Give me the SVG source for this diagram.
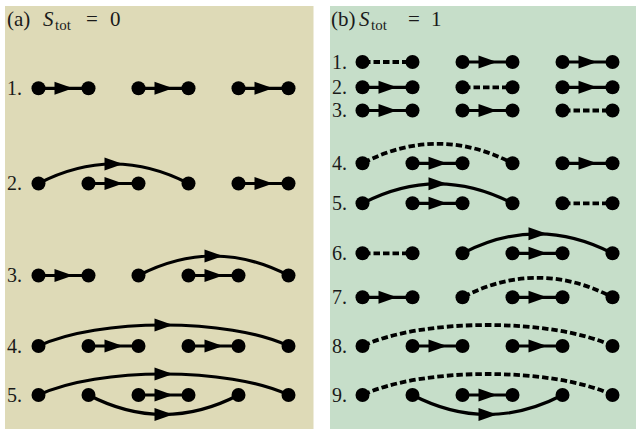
<svg xmlns="http://www.w3.org/2000/svg" width="636" height="429" viewBox="0 0 636 429">
<style>
.bga{fill:#DEDAB7}
.bgb{fill:#C6DEC9}
.e{fill:none;stroke:#000;stroke-width:3.2;marker-mid:url(#arr)}
.d{fill:none;stroke:#000;stroke-width:3.8;stroke-dasharray:6.5 3;stroke-dashoffset:-1.5}
circle{fill:#000}
text{font-family:"Liberation Serif","Times New Roman",serif;font-size:20px;fill:#1a1a1a}
.t{font-size:21px}
.sub{font-size:15px}
.it{font-style:italic}
</style>
<defs>
<marker id="arr" markerUnits="userSpaceOnUse" markerWidth="20" markerHeight="14" viewBox="-10 -7 20 14" refX="0" refY="0" orient="auto" overflow="visible">
<path d="M-9,-6.5 L9.5,0 L-9,6.5 z" fill="#000"/>
</marker>
</defs>
<rect class="bga" x="5" y="6" width="308.5" height="423"/>
<rect class="bgb" x="330" y="6" width="306" height="423"/>
<g id="titles">
<text class="t" x="7" y="26">(a)</text><text class="t it" x="43" y="26">S</text><text class="sub" x="55" y="30">tot</text><text class="t" x="86" y="26">=</text><text class="t" x="110" y="26">0</text>
<text class="t" x="331" y="26">(b)</text><text class="t it" x="359" y="26">S</text><text class="sub" x="371" y="30">tot</text><text class="t" x="408" y="26">=</text><text class="t" x="431" y="26">1</text>
</g>
<g id="labels">
<text x="7" y="95">1.</text><text x="7" y="190.2">2.</text><text x="7" y="282.2">3.</text><text x="7" y="352.7">4.</text><text x="7" y="401.7">5.</text>
<text x="332" y="68.7">1.</text><text x="332" y="94">2.</text><text x="332" y="117.2">3.</text><text x="332" y="170">4.</text><text x="332" y="210">5.</text><text x="332" y="260">6.</text><text x="332" y="304">7.</text><text x="332" y="352.7">8.</text><text x="332" y="401.7">9.</text>
</g>
<g id="connectors">
<path class="e" d="M38.5 88.3H63.5H88.5"/>
<path class="e" d="M138.5 88.3H163.5H188.5"/>
<path class="e" d="M238.5 88.3H263.5H288.5"/>
<path class="e" d="M38.5,183.5 C63.5,170.5 88.5,164 113.5,164 C138.5,164 163.5,170.5 188.5,183.5"/>
<path class="e" d="M88.5 183.5H113.5H138.5"/>
<path class="e" d="M238.5 183.5H263.5H288.5"/>
<path class="e" d="M38.5 275.5H63.5H88.5"/>
<path class="e" d="M188.5 275.5H213.5H238.5"/>
<path class="e" d="M138.5,275.5 C163.5,262.5 188.5,256 213.5,256 C238.5,256 263.5,262.5 288.5,275.5"/>
<path class="e" d="M38.5,346 C68.5,332 116,325 163.5,325 C211,325 258.5,332 288.5,346"/>
<path class="e" d="M88.5 346H113.5H138.5"/>
<path class="e" d="M188.5 346H213.5H238.5"/>
<path class="e" d="M38.5,395 C68.5,381 116,374 163.5,374 C211,374 258.5,381 288.5,395"/>
<path class="e" d="M88.5,395 C113.5,408 138.5,414.5 163.5,414.5 C188.5,414.5 213.5,408 238.5,395"/>
<path class="e" d="M138.5 395H163.5H188.5"/>
<path class="d" d="M362.5 62H412.5"/>
<path class="e" d="M462.5 62H487.5H512.5"/>
<path class="e" d="M562.5 62H587.5H612.5"/>
<path class="e" d="M362.5 87.3H387.5H412.5"/>
<path class="d" d="M462.5 87.3H512.5"/>
<path class="e" d="M562.5 87.3H587.5H612.5"/>
<path class="e" d="M362.5 110.5H387.5H412.5"/>
<path class="e" d="M462.5 110.5H487.5H512.5"/>
<path class="d" d="M562.5 110.5H612.5"/>
<path class="d" d="M362.5,163.3 C412.5,137.3 462.5,137.3 512.5,163.3"/>
<path class="e" d="M412.5 163.3H437.5H462.5"/>
<path class="e" d="M562.5 163.3H587.5H612.5"/>
<path class="e" d="M362.5,203.3 C387.5,190.3 412.5,183.8 437.5,183.8 C462.5,183.8 487.5,190.3 512.5,203.3"/>
<path class="e" d="M412.5 203.3H437.5H462.5"/>
<path class="d" d="M562.5 203.3H612.5"/>
<path class="d" d="M362.5 253.3H412.5"/>
<path class="e" d="M462.5,253.3 C487.5,240.3 512.5,233.8 537.5,233.8 C562.5,233.8 587.5,240.3 612.5,253.3"/>
<path class="e" d="M512.5 253.3H537.5H562.5"/>
<path class="e" d="M362.5 297.3H387.5H412.5"/>
<path class="d" d="M462.5,297.3 C512.5,271.3 562.5,271.3 612.5,297.3"/>
<path class="e" d="M512.5 297.3H537.5H562.5"/>
<path class="d" d="M362.5,346 C422.5,318 552.5,318 612.5,346"/>
<path class="e" d="M412.5 346H437.5H462.5"/>
<path class="e" d="M512.5 346H537.5H562.5"/>
<path class="d" d="M362.5,395 C422.5,367 552.5,367 612.5,395"/>
<path class="e" d="M412.5,395 C437.5,408 462.5,414.5 487.5,414.5 C512.5,414.5 537.5,408 562.5,395"/>
<path class="e" d="M462.5 395H487.5H512.5"/>
</g>
<g id="a1n0"><circle cx="38.5" cy="88.3" r="7"/></g><g id="a1n1"><circle cx="88.5" cy="88.3" r="7"/></g><g id="a1n2"><circle cx="138.5" cy="88.3" r="7"/></g><g id="a1n3"><circle cx="188.5" cy="88.3" r="7"/></g><g id="a1n4"><circle cx="238.5" cy="88.3" r="7"/></g><g id="a1n5"><circle cx="288.5" cy="88.3" r="7"/></g>
<g id="a2n0"><circle cx="38.5" cy="183.5" r="7"/></g><g id="a2n1"><circle cx="88.5" cy="183.5" r="7"/></g><g id="a2n2"><circle cx="138.5" cy="183.5" r="7"/></g><g id="a2n3"><circle cx="188.5" cy="183.5" r="7"/></g><g id="a2n4"><circle cx="238.5" cy="183.5" r="7"/></g><g id="a2n5"><circle cx="288.5" cy="183.5" r="7"/></g>
<g id="a3n0"><circle cx="38.5" cy="275.5" r="7"/></g><g id="a3n1"><circle cx="88.5" cy="275.5" r="7"/></g><g id="a3n2"><circle cx="138.5" cy="275.5" r="7"/></g><g id="a3n3"><circle cx="188.5" cy="275.5" r="7"/></g><g id="a3n4"><circle cx="238.5" cy="275.5" r="7"/></g><g id="a3n5"><circle cx="288.5" cy="275.5" r="7"/></g>
<g id="a4n0"><circle cx="38.5" cy="346" r="7"/></g><g id="a4n1"><circle cx="88.5" cy="346" r="7"/></g><g id="a4n2"><circle cx="138.5" cy="346" r="7"/></g><g id="a4n3"><circle cx="188.5" cy="346" r="7"/></g><g id="a4n4"><circle cx="238.5" cy="346" r="7"/></g><g id="a4n5"><circle cx="288.5" cy="346" r="7"/></g>
<g id="a5n0"><circle cx="38.5" cy="395" r="7"/></g><g id="a5n1"><circle cx="88.5" cy="395" r="7"/></g><g id="a5n2"><circle cx="138.5" cy="395" r="7"/></g><g id="a5n3"><circle cx="188.5" cy="395" r="7"/></g><g id="a5n4"><circle cx="238.5" cy="395" r="7"/></g><g id="a5n5"><circle cx="288.5" cy="395" r="7"/></g>
<g id="b1n0"><circle cx="362.5" cy="62" r="7"/></g><g id="b1n1"><circle cx="412.5" cy="62" r="7"/></g><g id="b1n2"><circle cx="462.5" cy="62" r="7"/></g><g id="b1n3"><circle cx="512.5" cy="62" r="7"/></g><g id="b1n4"><circle cx="562.5" cy="62" r="7"/></g><g id="b1n5"><circle cx="612.5" cy="62" r="7"/></g>
<g id="b2n0"><circle cx="362.5" cy="87.3" r="7"/></g><g id="b2n1"><circle cx="412.5" cy="87.3" r="7"/></g><g id="b2n2"><circle cx="462.5" cy="87.3" r="7"/></g><g id="b2n3"><circle cx="512.5" cy="87.3" r="7"/></g><g id="b2n4"><circle cx="562.5" cy="87.3" r="7"/></g><g id="b2n5"><circle cx="612.5" cy="87.3" r="7"/></g>
<g id="b3n0"><circle cx="362.5" cy="110.5" r="7"/></g><g id="b3n1"><circle cx="412.5" cy="110.5" r="7"/></g><g id="b3n2"><circle cx="462.5" cy="110.5" r="7"/></g><g id="b3n3"><circle cx="512.5" cy="110.5" r="7"/></g><g id="b3n4"><circle cx="562.5" cy="110.5" r="7"/></g><g id="b3n5"><circle cx="612.5" cy="110.5" r="7"/></g>
<g id="b4n0"><circle cx="362.5" cy="163.3" r="7"/></g><g id="b4n1"><circle cx="412.5" cy="163.3" r="7"/></g><g id="b4n2"><circle cx="462.5" cy="163.3" r="7"/></g><g id="b4n3"><circle cx="512.5" cy="163.3" r="7"/></g><g id="b4n4"><circle cx="562.5" cy="163.3" r="7"/></g><g id="b4n5"><circle cx="612.5" cy="163.3" r="7"/></g>
<g id="b5n0"><circle cx="362.5" cy="203.3" r="7"/></g><g id="b5n1"><circle cx="412.5" cy="203.3" r="7"/></g><g id="b5n2"><circle cx="462.5" cy="203.3" r="7"/></g><g id="b5n3"><circle cx="512.5" cy="203.3" r="7"/></g><g id="b5n4"><circle cx="562.5" cy="203.3" r="7"/></g><g id="b5n5"><circle cx="612.5" cy="203.3" r="7"/></g>
<g id="b6n0"><circle cx="362.5" cy="253.3" r="7"/></g><g id="b6n1"><circle cx="412.5" cy="253.3" r="7"/></g><g id="b6n2"><circle cx="462.5" cy="253.3" r="7"/></g><g id="b6n3"><circle cx="512.5" cy="253.3" r="7"/></g><g id="b6n4"><circle cx="562.5" cy="253.3" r="7"/></g><g id="b6n5"><circle cx="612.5" cy="253.3" r="7"/></g>
<g id="b7n0"><circle cx="362.5" cy="297.3" r="7"/></g><g id="b7n1"><circle cx="412.5" cy="297.3" r="7"/></g><g id="b7n2"><circle cx="462.5" cy="297.3" r="7"/></g><g id="b7n3"><circle cx="512.5" cy="297.3" r="7"/></g><g id="b7n4"><circle cx="562.5" cy="297.3" r="7"/></g><g id="b7n5"><circle cx="612.5" cy="297.3" r="7"/></g>
<g id="b8n0"><circle cx="362.5" cy="346" r="7"/></g><g id="b8n1"><circle cx="412.5" cy="346" r="7"/></g><g id="b8n2"><circle cx="462.5" cy="346" r="7"/></g><g id="b8n3"><circle cx="512.5" cy="346" r="7"/></g><g id="b8n4"><circle cx="562.5" cy="346" r="7"/></g><g id="b8n5"><circle cx="612.5" cy="346" r="7"/></g>
<g id="b9n0"><circle cx="362.5" cy="395" r="7"/></g><g id="b9n1"><circle cx="412.5" cy="395" r="7"/></g><g id="b9n2"><circle cx="462.5" cy="395" r="7"/></g><g id="b9n3"><circle cx="512.5" cy="395" r="7"/></g><g id="b9n4"><circle cx="562.5" cy="395" r="7"/></g><g id="b9n5"><circle cx="612.5" cy="395" r="7"/></g>
</svg>
